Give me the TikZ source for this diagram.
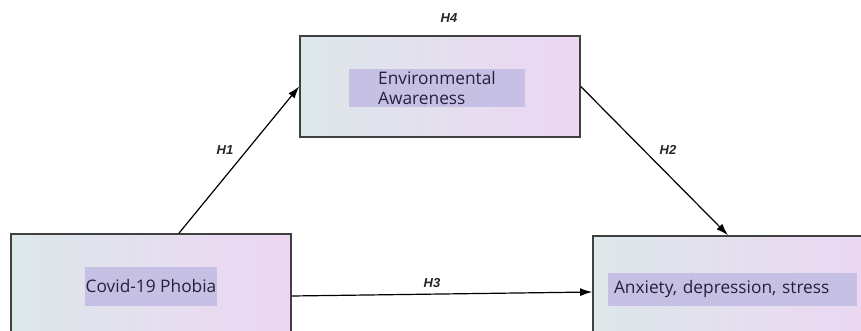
\documentclass[tikz,border=0pt]{standalone}
\usepackage{fontspec}
\setmainfont{Open Sans}
\newfontfamily\hfont{Liberation Sans}
\usetikzlibrary{arrows.meta}
\definecolor{boxleft}{HTML}{DDE8EA}
\definecolor{boxright}{HTML}{ECD6F3}
\definecolor{labelfill}{HTML}{C7C0E5}
\definecolor{labeltext}{HTML}{24223A}

\begin{document}
\begin{tikzpicture}[x=1pt,y=-1pt,
    outerbox/.style={draw=black!75,line width=1.6pt,left color=boxleft,right color=boxright,inner sep=0pt},
    innerbox/.style={fill=labelfill,inner sep=6pt,font=\fontsize{17.3}{20}\selectfont,text=labeltext,align=left},
    hyp/.style={font=\hfont\fontsize{13}{15}\selectfont\bfseries\itshape,text=black!85},
    every edge/.style={draw=black,line width=1.2pt,-{Latex[length=12pt,width=8pt]}}]
  \clip (0,0) rectangle (861,331);
  % outer boxes
  \begin{scope}[every node/.style={outerbox}]
    \node (env) [minimum width=280pt,minimum height=101pt] at (440,86.5) {};
    \node (covid) [minimum width=280pt,minimum height=124pt] at (151,296) {};
    \node (anx) [minimum width=290pt,minimum height=112pt] at (738,292) {};
  \end{scope}
  % labels in the boxes
  \begin{scope}[every node/.style={innerbox}]
    \node (envlab) [minimum width=176pt,minimum height=38pt,inner sep=1pt] at (437,88) {Environmental\\Awareness};
    \node (covidlab) [minimum width=132pt,minimum height=39pt,inner sep=1pt] at (151,286.5) {Covid-19 Phobia};
    \node (anxlab) [minimum width=249pt,minimum height=33pt,text width=237pt,inner sep=5pt] at (732.5,289.5) {Anxiety, depression, stress};
  \end{scope}
  % hypotheses
  \path (covid.66) edge (env.west);
  \path (env.east) edge (anx.100);
  \path (covid.east) edge (anx.west);
  \begin{scope}[every node/.style={hyp}]
    \node (h1) at (225,150) {H1};
    \node (h2) at (668,150) {H2};
    \node (h3) at (432,283) {H3};
    \node (h4) at (449,18) {H4};
  \end{scope}
\end{tikzpicture}
\end{document}
